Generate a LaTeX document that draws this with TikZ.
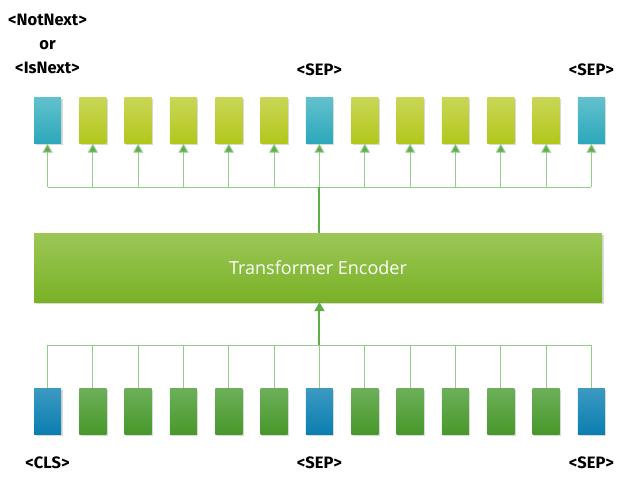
\documentclass[tikz,border=0pt]{standalone}
\usepackage{fontspec}
\setmainfont{Open Sans}
\newfontfamily\tagfont{Fira Sans}
\usetikzlibrary{positioning,shadows,arrows.meta}

\definecolor{cyanTop}{HTML}{62C1CD}
\definecolor{cyanBot}{HTML}{2CA8BB}
\definecolor{limeTop}{HTML}{CAD656}
\definecolor{limeBot}{HTML}{B2C71C}
\definecolor{blueTop}{HTML}{3C99C2}
\definecolor{blueBot}{HTML}{0A7EB0}
\definecolor{grnTop}{HTML}{6CAF58}
\definecolor{grnBot}{HTML}{47982B}
\definecolor{encTop}{HTML}{9CC757}
\definecolor{encBot}{HTML}{79B126}
\definecolor{wireGreen}{HTML}{92CC8C}
\definecolor{trunkGreen}{HTML}{5EAE48}

\begin{document}
\begin{tikzpicture}[x=1pt,y=-1pt,node distance=45.33pt,on grid,
   tok/.style={minimum width=27pt,minimum height=46pt,inner sep=0pt,
      drop shadow={shadow xshift=1.5pt,shadow yshift=-1.5pt,opacity=.3}},
   sepout/.style={tok,top color=cyanTop,bottom color=cyanBot},
   wordout/.style={tok,top color=limeTop,bottom color=limeBot},
   sepin/.style={tok,top color=blueTop,bottom color=blueBot},
   wordin/.style={tok,top color=grnTop,bottom color=grnBot},
   tag/.style={font=\tagfont\bfseries\fontsize{16.5}{24}\selectfont,inner sep=0pt},
   wire/.style={draw=wireGreen,line width=1pt},
   trunk/.style={draw=trunkGreen,line width=2pt},
   tip/.style={-{Triangle[width=10pt,length=9pt,fill=trunkGreen]}},
   up/.style={wire,tip,shorten >=0.5pt}]
   \useasboundingbox (0,0) rectangle (631,491);

   % output tokens
   \node[sepout] (t_0) at (47.5,120) {};
   \foreach \i [remember=\i as \j (initially 0)] in {1,...,12}{
      \ifnum\i=6 \def\kind{sepout}\else\ifnum\i=12 \def\kind{sepout}\else\def\kind{wordout}\fi\fi
      \node[\kind] (t_\i) [right=of t_\j] {};
   }

   % input tokens
   \node[sepin] (b_0) at (47.5,411.5) {};
   \foreach \i [remember=\i as \j (initially 0)] in {1,...,12}{
      \ifnum\i=6 \def\kind{sepin}\else\ifnum\i=12 \def\kind{sepin}\else\def\kind{wordin}\fi\fi
      \node[\kind] (b_\i) [right=of b_\j] {};
   }

   % encoder
   \node[minimum width=568pt,minimum height=69pt,inner sep=0pt,
      top color=encTop,bottom color=encBot,text=white,
      font=\fontsize{18}{20}\selectfont,
      drop shadow={shadow xshift=1.5pt,shadow yshift=-2pt,opacity=.3}]
      (enc) at (318,267.5) {Transformer Encoder};

   \coordinate (topbus) at (t_6 |- 0,187);
   \coordinate (botbus) at (b_6 |- 0,345);

   % wiring
   \draw[wire] (t_0 |- topbus) -- (t_12 |- topbus);
   \foreach \i in {0,...,12}
      \draw[up] (t_\i |- topbus) -- (t_\i.south);
   \draw[trunk] (t_6 |- enc.north) -- (topbus);

   \draw[wire] (b_0 |- botbus) -- (b_12 |- botbus);
   \foreach \i in {0,...,12}
      \draw[wire] (b_\i.north) -- (b_\i |- botbus);
   \draw[trunk,tip] (botbus) -- (b_6 |- enc.south);

   % labels
   \node[tag,align=center] (nsp) [above=76pt of t_0] {<NotNext>\\or\\<IsNext>};
   \node[tag] (sep_t1) [above=50pt of t_6] {<SEP>};
   \node[tag] (sep_t2) [above=50pt of t_12] {<SEP>};
   \node[tag] (cls) [below=51pt of b_0] {<CLS>};
   \node[tag] (sep_b1) [below=51pt of b_6] {<SEP>};
   \node[tag] (sep_b2) [below=51pt of b_12] {<SEP>};
\end{tikzpicture}
\end{document}
